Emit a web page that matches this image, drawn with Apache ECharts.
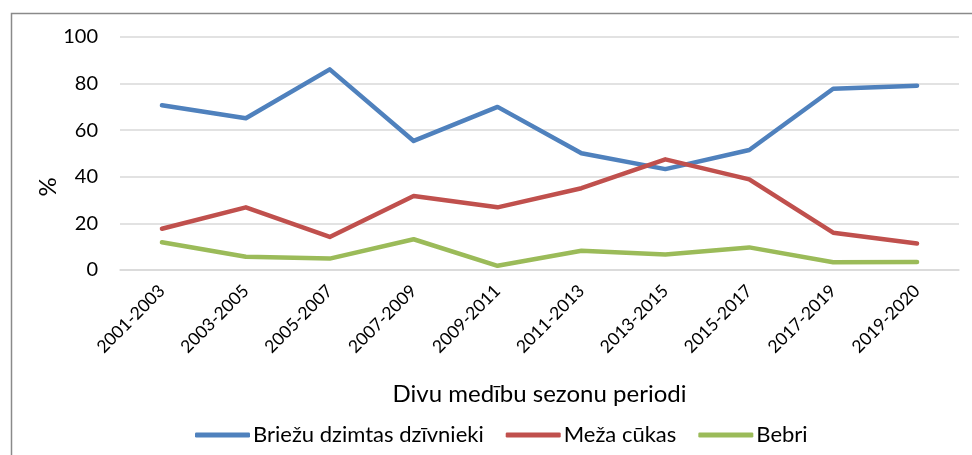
<!DOCTYPE html>
<html>
<head>
<meta charset="utf-8">
<script src="https://cdn.jsdelivr.net/npm/echarts@6/dist/echarts.min.js"></script>
<style>
    html, body { margin: 0; padding: 0; background: #fff; }
    #chart { width: 972px; height: 455px; }
</style>
</head>
<body>
<div id="chart"></div>
<script>
var periods = ['2001-2003', '2003-2005', '2005-2007', '2007-2009', '2009-2011',
    '2011-2013', '2013-2015', '2015-2017', '2017-2019', '2019-2020'];
var briezi = [70.7, 65.1, 86.1, 55.4, 70.0, 50.1, 43.3, 51.5, 77.8, 79.1];
var cukas = [17.7, 26.9, 14.2, 31.8, 26.9, 35.1, 47.5, 38.9, 16.0, 11.4];
var bebri = [11.9, 5.7, 4.9, 13.2, 1.8, 8.3, 6.7, 9.7, 3.3, 3.4];
var yTicks = [0, 20, 40, 60, 80, 100];

var FONT = 'Lato, "Open Sans", sans-serif';

var chart = echarts.init(document.getElementById('chart'));

function lineSeries(name, data, color) {
    return {
        name: name,
        type: 'line',
        data: data,
        showSymbol: false,
        symbol: 'none',
        color: color,
        lineStyle: { width: 4.5, color: color, cap: 'round', join: 'round' }
    };
}

var option = {
    animation: false,
    textStyle: { fontFamily: FONT, color: '#000' },
    graphic: [{
        type: 'rect',
        left: 9, top: 11,
        shape: { width: 1000, height: 500 },
        style: { fill: 'none', stroke: '#8a8a8a', lineWidth: 1.5 },
        silent: true
    }, {
        // y axis title, sits lower than the axis middle like in the original
        type: 'text',
        x: 48, y: 187,
        rotation: Math.PI / 2,
        style: {
            text: '%', fontFamily: FONT, fontSize: 24, fill: '#000',
            align: 'center', verticalAlign: 'middle'
        },
        silent: true
    }],
    grid: { left: 120, right: 13, top: 37, bottom: 185, containLabel: false },
    legend: {
        left: 190,
        top: 419,
        icon: 'roundRect',
        itemWidth: 55,
        itemHeight: 5,
        itemGap: 22,
        textStyle: { fontFamily: FONT, fontSize: 22, color: '#000', padding: [0, 0, 0, -2] },
        data: ['Briežu dzimtas dzīvnieki', 'Meža cūkas', 'Bebri']
    },
    xAxis: {
        type: 'category',
        data: periods,
        boundaryGap: true,
        name: 'Divu medību sezonu periodi',
        nameLocation: 'middle',
        nameGap: 112,
        nameTextStyle: { fontFamily: FONT, fontSize: 24, color: '#000' },
        axisLine: { show: true, lineStyle: { color: '#d9d9d9', width: 1.5 } },
        axisTick: { show: false },
        axisLabel: { rotate: 45, margin: 18, fontSize: 17.5, color: '#000', fontFamily: FONT }
    },
    yAxis: {
        type: 'value',
        min: yTicks[0],
        max: yTicks[yTicks.length - 1],
        interval: 20,
        axisLine: { show: false },
        axisTick: { show: false },
        axisLabel: { margin: 22, fontSize: 20, color: '#000', fontFamily: FONT },
        splitLine: { lineStyle: { color: '#d9d9d9', width: 1.5 } }
    },
    series: [
        lineSeries('Briežu dzimtas dzīvnieki', briezi, '#4f81bd'),
        lineSeries('Meža cūkas', cukas, '#c0504d'),
        lineSeries('Bebri', bebri, '#9bbb59')
    ]
};

chart.setOption(option);
</script>
</body>
</html>
